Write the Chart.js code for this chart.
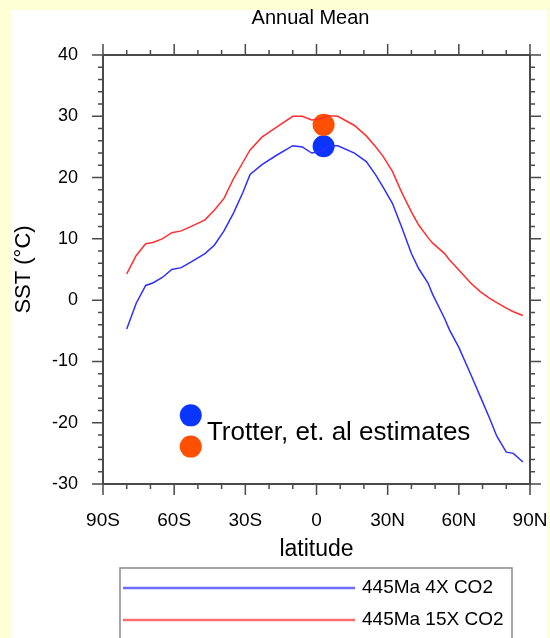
<!DOCTYPE html>
<html>
<head>
    <meta charset="UTF-8">
    <title>Annual Mean SST</title>
    <style>
        html, body {
            margin: 0;
            padding: 0;
            background: #ffffd6;
        }
        #wrap {
            position: absolute;
            left: 0;
            top: 0;
            width: 550px;
            height: 638px;
        }
    </style>
    <script src="https://cdn.jsdelivr.net/npm/chart.js@4.4.0/dist/chart.umd.min.js"></script>
</head>
<body>
<div id="wrap"><canvas id="sst-chart" width="550" height="638"></canvas></div>
<script>
    // latitude (deg, negative = south)
    var latitudes = [-80, -76, -72, -69, -65, -61, -57, -53, -47, -43, -39, -35, -31, -28, -23, -17, -10, -6, -2, 2,
        5, 9, 16, 21, 25, 28, 32, 36, 40, 43, 47, 49, 54, 56, 60, 65, 69, 73, 76, 80, 83, 87];
    // 445Ma 4X CO2
    var sst4x = [-4.7, -0.5, 2.4, 2.8, 3.7, 5.0, 5.3, 6.2, 7.6, 9.0, 11.3, 14.2, 17.6, 20.5, 22.1, 23.6, 25.2, 25.0, 24.0, 24.3,
        25.2, 25.2, 24.0, 22.6, 20.4, 18.5, 15.8, 11.8, 7.6, 5.2, 2.8, 0.9, -3.0, -4.8, -7.7, -12.1, -15.7, -19.3, -22.2, -24.8, -25.0, -26.4];
    // 445Ma 15X CO2
    var sst15x = [4.3, 7.3, 9.2, 9.4, 10.0, 11.0, 11.3, 12.0, 13.1, 14.7, 16.6, 19.8, 22.5, 24.5, 26.6, 28.2, 30.0, 30.0, 29.4, 29.6,
        30.1, 30.0, 28.5, 26.8, 25.0, 23.5, 21.0, 17.5, 14.4, 12.3, 10.2, 9.3, 7.6, 6.6, 4.9, 2.8, 1.4, 0.3, -0.4, -1.3, -1.9, -2.5];

    // Trotter et al. estimates (second point of each = marker beside the note)
    var estLat = [3, -53];
    var est4x = [25.1, -18.8];
    var est15x = [28.6, -23.9];

    var seriesNames = ['445Ma 4X CO2', '445Ma 15X CO2'];
    var xTickValues = [-90, -60, -30, 0, 30, 60, 90];
    var xTickLabels = ['90S', '60S', '30S', '0', '30N', '60N', '90N'];
    var yTickLabels = ['-30', '-20', '-10', '0', '10', '20', '30', '40'];

    function toPoints(xs, ys) {
        var pts = [];
        for (var i = 0; i < xs.length; i++) {
            pts.push({x: xs[i], y: ys[i]});
        }
        return pts;
    }

    var FONT = 'Liberation Sans, Arial, Helvetica, sans-serif';

    // yellow frame + white sheet
    var bgPlugin = {
        id: 'bg',
        beforeDraw: function(chart) {
            var c = chart.ctx;
            c.save();
            c.fillStyle = '#ffffd6';
            c.fillRect(0, 0, chart.width, chart.height);
            c.fillStyle = '#ffffff';
            c.fillRect(12, 10, 535, chart.height - 10);
            c.restore();
        }
    };

    // box with outward major / minor ticks on all four sides, title, note, legend
    var framePlugin = {
        id: 'frame',
        afterDraw: function(chart) {
            var c = chart.ctx;
            var a = chart.chartArea;
            var xs = chart.scales.x, ys = chart.scales.y;
            var v, p, len;
            c.save();
            c.strokeStyle = '#4a4a4a';
            c.lineWidth = 1.5;
            c.beginPath();
            for (v = -90; v <= 90; v += 10) {
                p = xs.getPixelForValue(v);
                len = (v % 30 === 0) ? 11 : 5;
                c.moveTo(p, a.bottom); c.lineTo(p, a.bottom + len);
                c.moveTo(p, a.top); c.lineTo(p, a.top - len);
            }
            for (v = -30; v <= 40; v += 2) {
                p = ys.getPixelForValue(v);
                len = (v % 10 === 0) ? 11 : 5;
                c.moveTo(a.left, p); c.lineTo(a.left - len, p);
                c.moveTo(a.right, p); c.lineTo(a.right + len, p);
            }
            c.stroke();
            c.lineWidth = 2;
            c.strokeRect(a.left, a.top, a.right - a.left, a.bottom - a.top);

            // title
            c.fillStyle = '#000';
            c.textAlign = 'center';
            c.textBaseline = 'middle';
            c.font = '20px ' + FONT;
            c.fillText('Annual Mean', (a.left + a.right) / 2 - 6, 18);

            // note beside the estimate markers
            c.textAlign = 'left';
            c.font = '26px ' + FONT;
            c.fillText('Trotter, et. al estimates', xs.getPixelForValue(-46.2), ys.getPixelForValue(-21.6));

            // legend box
            var lx = 120, ly = 568, lw = 392;
            c.strokeStyle = '#8a8a8a';
            c.lineWidth = 1.5;
            c.strokeRect(lx, ly, lw, chart.height - ly + 5);
            c.font = '19px ' + FONT;
            for (var i = 0; i < 2; i++) {
                var yy = ly + 20 + i * 32;
                c.strokeStyle = chart.data.datasets[i].borderColor;
                c.globalAlpha = 0.7;
                c.lineWidth = 2.5;
                c.beginPath();
                c.moveTo(lx + 3, yy);
                c.lineTo(lx + 235, yy);
                c.stroke();
                c.globalAlpha = 1;
                c.fillText(chart.data.datasets[i].label, lx + 242, yy);
            }
            c.restore();
        }
    };

    var ctx = document.getElementById('sst-chart').getContext('2d');
    var chart = new Chart(ctx, {
        type: 'line',
        data: {
            datasets: [{
                label: seriesNames[0],
                data: toPoints(latitudes, sst4x),
                borderColor: '#2f2fff',
                borderWidth: 1.5,
                pointRadius: 0,
                tension: 0,
                fill: false
            }, {
                label: seriesNames[1],
                data: toPoints(latitudes, sst15x),
                borderColor: '#ff2f2f',
                borderWidth: 1.5,
                pointRadius: 0,
                tension: 0,
                fill: false
            }, {
                label: 'Trotter 15X',
                data: toPoints(estLat, est15x),
                showLine: false,
                pointRadius: 11,
                pointBackgroundColor: '#ff4f00',
                pointBorderWidth: 0,
                clip: false
            }, {
                label: 'Trotter 4X',
                data: toPoints(estLat, est4x),
                showLine: false,
                pointRadius: 11,
                pointBackgroundColor: '#0a34ff',
                pointBorderWidth: 0,
                clip: false
            }]
        },
        options: {
            responsive: false,
            animation: false,
            layout: {
                padding: {top: 55, right: 0, bottom: 75, left: 0}
            },
            plugins: {
                legend: {display: false},
                tooltip: {enabled: false}
            },
            scales: {
                x: {
                    type: 'linear',
                    min: -90,
                    max: 90,
                    afterBuildTicks: function(scale) {
                        scale.ticks = xTickValues.map(function(v) { return {value: v}; });
                    },
                    afterFit: function(scale) {
                        scale.height = 79;
                        scale.paddingRight = 20;
                    },
                    grid: {display: false, drawTicks: false},
                    border: {display: false},
                    ticks: {
                        color: '#000',
                        padding: 25,
                        maxRotation: 0,
                        font: {family: FONT, size: 19},
                        callback: function(v, i) { return xTickLabels[i]; }
                    },
                    title: {
                        display: true,
                        text: 'latitude',
                        color: '#000',
                        padding: 0,
                        font: {family: FONT, size: 23}
                    }
                },
                y: {
                    min: -30,
                    max: 40,
                    afterFit: function(scale) { scale.width = 103; },
                    grid: {display: false, drawTicks: false},
                    border: {display: false},
                    ticks: {
                        stepSize: 10,
                        color: '#000',
                        padding: 25,
                        font: {family: FONT, size: 18},
                        callback: function(v, i) { return yTickLabels[i]; }
                    },
                    title: {
                        display: true,
                        text: 'SST (°C)',
                        color: '#000',
                        padding: {top: 11, bottom: 0},
                        font: {family: FONT, size: 22}
                    }
                }
            }
        },
        plugins: [bgPlugin, framePlugin]
    });
</script>
</body>
</html>
